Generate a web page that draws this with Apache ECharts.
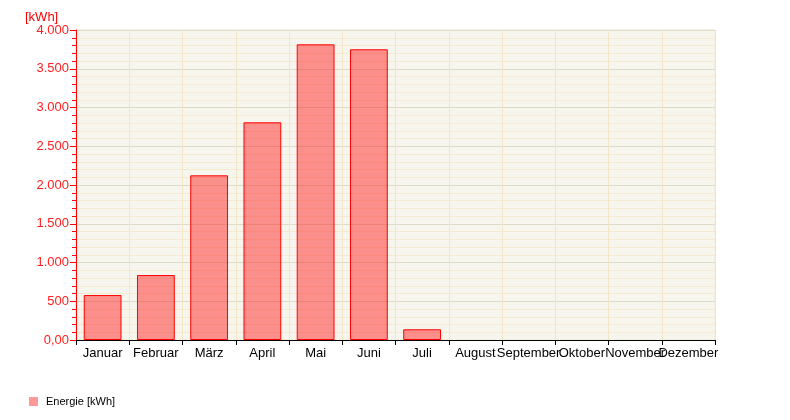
<!DOCTYPE html>
<html>
<head>
<meta charset="utf-8">
<script src="https://cdn.jsdelivr.net/npm/echarts@6/dist/echarts.min.js"></script>
<style>html,body{margin:0;padding:0;background:#fff;}#c{width:790px;height:420px;}</style>
</head>
<body>
<div id="c"></div>
<script>
var categories = ['Januar','Februar','März','April','Mai','Juni','Juli','August','September','Oktober','November','Dezember'];
var energie = [580, 838, 2125, 2809, 3815, 3751, 138, null, null, null, null, null];
var seriesName = 'Energie [kWh]';
var unitLabel = '[kWh]';

function fmt(v){
  if (v === 0) return '0,00';
  return String(v).replace(/\B(?=(\d{3})+(?!\d))/g, '.');
}

var chart = echarts.init(document.getElementById('c'), null, {renderer:'canvas'});
chart.setOption({
  animation: false,
  textStyle: {fontFamily: 'Liberation Sans, Arial, sans-serif'},
  grid: {left: 76, right: 75, top: 30, bottom: 80, show: true, backgroundColor: '#f6f6ee', borderColor: '#f0e6cc', borderWidth: 1},
  title: {text: unitLabel, left: 20, top: 6, textStyle: {color: '#ff0000', fontSize: 13, fontWeight: 'normal', fontFamily: 'Liberation Sans, Arial, sans-serif'}},
  legend: {
    left: 24, top: 391, itemWidth: 9, itemHeight: 9, itemGap: 10,
    icon: 'rect',
    textStyle: {fontSize: 11, color: '#000', padding: [0, 0, 0, 3], fontFamily: 'Liberation Sans, Arial, sans-serif'},
    data: [{name: seriesName, itemStyle: {color: '#ff9999', borderWidth: 0}}]
  },
  xAxis: {
    type: 'category', data: categories, boundaryGap: true,
    axisLine: {lineStyle: {color: '#000', width: 1}},
    axisTick: {show: true, alignWithLabel: false, length: 5, lineStyle: {color: '#000'}},
    axisLabel: {color: '#000', fontSize: 13, margin: 7, interval: 0, fontFamily: 'Liberation Sans, Arial, sans-serif'},
    splitLine: {show: true, lineStyle: {color: '#f3e6c8', width: 1}}
  },
  yAxis: {
    type: 'value', min: 0, max: 4000, interval: 500,
    axisLine: {show: true, lineStyle: {color: '#ff0000', width: 1}},
    axisTick: {show: true, length: 6, lineStyle: {color: '#ff0000'}},
    minorTick: {show: true, splitNumber: 5, length: 4, lineStyle: {color: '#ff0000'}},
    axisLabel: {color: '#ff2020', fontSize: 13, margin: 7, formatter: fmt, fontFamily: 'Liberation Sans, Arial, sans-serif'},
    splitLine: {show: true, lineStyle: {color: '#dcdcc6', width: 1}},
    minorSplitLine: {show: true, lineStyle: {color: '#f5e9cf', width: 1}}
  },
  series: [{
    name: seriesName, type: 'bar', data: energie,
    barWidth: '71%',
    itemStyle: {color: 'rgba(255,40,40,0.5)', borderColor: '#ff0000', borderWidth: 1}
  }]
});
</script>
</body>
</html>
